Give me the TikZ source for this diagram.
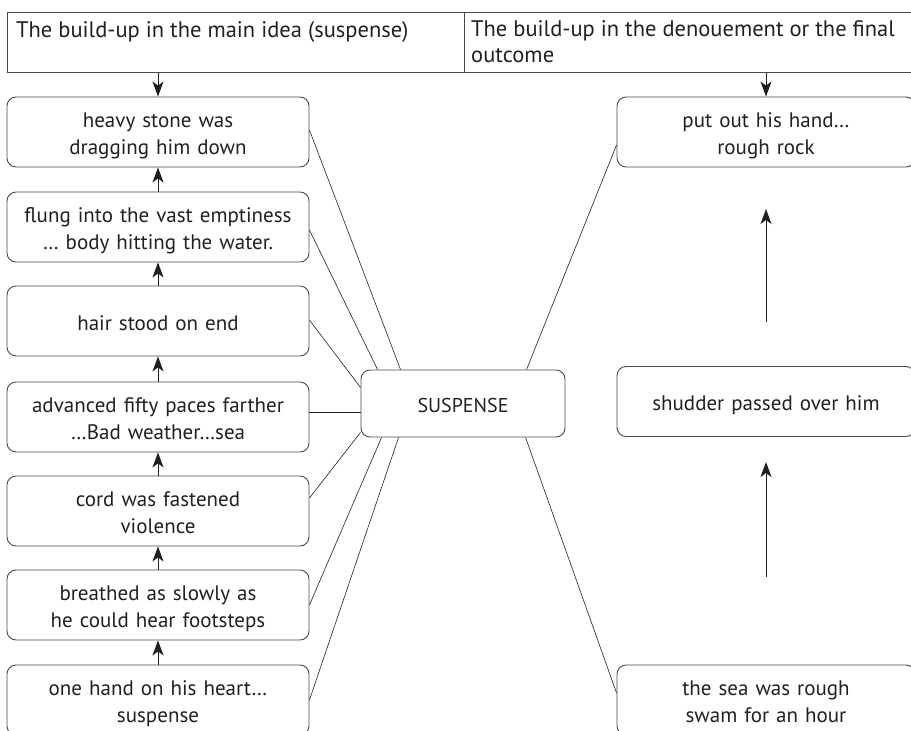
\documentclass[tikz,border=0pt]{standalone}
\usepackage{fontspec}
\setmainfont{PT Sans}
\usetikzlibrary{arrows.meta,calc}
\definecolor{ink}{HTML}{231F20}
\definecolor{edge}{HTML}{4A4A4A}
\begin{document}
\begin{tikzpicture}[x=1pt,y=-1pt,
  box/.style={draw=edge,line width=0.9pt,rounded corners=9pt,minimum width=302pt,minimum height=70pt,
    text width=290pt,align=center,font=\fontsize{21}{27.5}\selectfont,text=ink,inner xsep=6pt,inner ysep=0pt,
    execute at begin node={\rule{0pt}{26.5pt}},
    execute at end node={\rule[-8.5pt]{0pt}{8.5pt}}},
  rbox/.style={box,minimum width=298pt,text width=286pt},
  cbox/.style={box,minimum width=204pt,text width=192pt,minimum height=67pt,font=\fontsize{20}{26}\selectfont},
  hcell/.style={draw=edge,line width=0.9pt,minimum height=60pt,anchor=north west,inner sep=0pt},
  htext/.style={anchor=north west,font=\fontsize{22.5}{26}\selectfont,text=ink,align=left,inner sep=0pt},
  arr/.style={draw=ink,line width=1pt,-{Stealth[length=15pt,width=11pt,inset=4pt]}},
  link/.style={draw=ink,line width=0.6pt}]
\useasboundingbox (0,0) rectangle (911,731);
\clip (0,0) rectangle (911,731);
% header
\node[hcell,minimum width=457pt] (hl) at (7,12) {};
\node[hcell,minimum width=470pt] (hr) at (464,12) {};
\node[htext] (hlt) at ($(hl.north west)+(9,9)$) {The build-up in the main idea (suspense)};
\node[htext] (hrt) at ($(hr.north west)+(7,8)$) {The build-up in the denouement or the final\\outcome};
% left column
\node[box] (b1) at (158,132) {heavy stone was\\dragging him down};
\node[box] (b2) at (158,227) {flung into the vast emptiness\\\ldots\ body hitting the water.};
\node[box] (b3) at (158,321) {hair stood on end};
\node[box] (b4) at (158,417) {advanced fifty paces farther\\\ldots Bad weather\ldots sea};
\node[box] (b5) at (158,511) {cord was fastened\\violence};
\node[box] (b6) at (158,605) {breathed as slowly as\\he could hear footsteps};
\node[box] (b7) at (158,700) {one hand on his heart\ldots\\suspense};
% centre
\node[cbox] (s) at (463,403.5) {SUSPENSE};
% right column
\node[rbox] (r1) at (766,132) {put out his hand\ldots\\rough rock};
\node[rbox] (r2) at (766,401.5) {shudder passed over him};
\node[rbox] (r3) at (766,700) {the sea was rough\\swam for an hour};
% arrows
\draw[arr] (b1.north |- hl.south) -- (b1.north);
\draw[arr] (r1.north |- hr.south) -- (r1.north);
\draw[arr] (b2) -- (b1);
\draw[arr] (b3) -- (b2);
\draw[arr] (b4) -- (b3);
\draw[arr] (b5) -- (b4);
\draw[arr] (b6) -- (b5);
\draw[arr] (b7) -- (b6);
\coordinate (a1s) at (766,322);
\coordinate (a1e) at (766,209);
\coordinate (a2s) at (766,577);
\coordinate (a2e) at (766,462);
\draw[arr] (a1s) -- (a1e);
\draw[arr] (a2s) -- (a2e);
% links
\draw[link] ($(b1.east)+(0,-2)$) -- ($(s.north west)+(40,0)$);
\draw[link] ($(b2.east)+(0,3)$) -- ($(s.north west)+(17,0)$);
\draw[link] ($(b3.east)+(0,-1)$) -- ($(s.north west)+(0,18)$);
\draw[link] ($(b4.east)+(0,-5)$) -- ($(s.west)+(0,8.5)$);
\draw[link] ($(b5.east)+(0,-13)$) -- ($(s.south west)+(0,-5)$);
\draw[link] (b6.east) -- ($(s.south west)+(21,0)$);
\draw[link] (b7.east) -- ($(s.south west)+(38,0)$);
\draw[link] ($(s.north west)+(166,0)$) -- ($(r1.west)+(0,13)$);
\draw[link] ($(s.south west)+(165,0)$) -- ($(r3.west)+(0,-7)$);
\end{tikzpicture}
\end{document}
